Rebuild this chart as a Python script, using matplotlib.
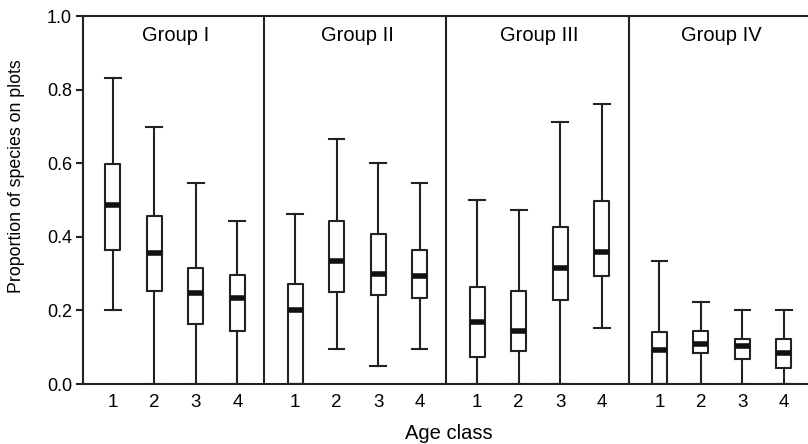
import matplotlib
matplotlib.use("Agg")
import matplotlib.pyplot as plt

plt.rcParams['font.family'] = ['Liberation Sans', 'DejaVu Sans']

groups = ["Group I", "Group II", "Group III", "Group IV"]
age_labels = ["1", "2", "3", "4"]

# per group, per age class: whisker low, q1, median, q3, whisker high
whislo = [[0.200, 0.000, 0.000, 0.000],
          [0.000, 0.096, 0.049, 0.096],
          [0.000, 0.000, 0.000, 0.153],
          [0.000, 0.000, 0.000, 0.000]]
q1 = [[0.363, 0.253, 0.162, 0.144],
      [0.000, 0.250, 0.241, 0.235],
      [0.074, 0.091, 0.228, 0.293],
      [0.000, 0.085, 0.067, 0.044]]
med = [[0.486, 0.356, 0.248, 0.235],
       [0.202, 0.333, 0.298, 0.293],
       [0.168, 0.143, 0.315, 0.358],
       [0.093, 0.109, 0.103, 0.084]]
q3 = [[0.598, 0.457, 0.316, 0.297],
      [0.271, 0.443, 0.408, 0.365],
      [0.264, 0.253, 0.426, 0.497],
      [0.141, 0.145, 0.121, 0.121]]
whishi = [[0.832, 0.699, 0.545, 0.444],
          [0.462, 0.666, 0.601, 0.545],
          [0.500, 0.473, 0.712, 0.761],
          [0.333, 0.222, 0.201, 0.201]]

stride = 4.39
fig = plt.figure(figsize=(8.08, 4.44), dpi=100)
ax = fig.add_axes([83/808, 1-384/444, 1-83/808, (384-16)/444])

col = '#222222'
stats, pos, labels = [], [], []
for g in range(4):
    for a in range(4):
        stats.append(dict(whislo=whislo[g][a], q1=q1[g][a], med=med[g][a],
                          q3=q3[g][a], whishi=whishi[g][a], fliers=[]))
        pos.append(g*stride + a)
        labels.append(age_labels[a])

ax.bxp(stats, positions=pos, widths=0.36, showfliers=False, patch_artist=False,
       boxprops=dict(color=col, linewidth=1.5),
       whiskerprops=dict(color=col, linewidth=1.5),
       capprops=dict(color=col, linewidth=1.5),
       medianprops=dict(color='#111111', linewidth=4.0, solid_capstyle='butt'),
       capwidths=0.38)

for g in range(1, 4):
    ax.axvline(g*stride - (stride-3)/2 - 0.05, color=col, linewidth=1.5)
for g in range(4):
    ax.text(g*stride + 1.5, 0.946, groups[g], ha='center', va='center', fontsize=14.5)

ax.set_xlim(-0.72, 16.75)
ax.set_ylim(0, 1.0)
ax.set_xticks(pos)
ax.set_xticklabels(labels, fontsize=13.5)
ax.tick_params(axis='x', length=0, pad=7)
ax.set_yticks([0, 0.2, 0.4, 0.6, 0.8, 1.0])
ax.set_yticklabels(["0.0", "0.2", "0.4", "0.6", "0.8", "1.0"], fontsize=13)
ax.tick_params(axis='y', length=5, width=1.5, color=col, direction='out', pad=3)
for s in ['left', 'bottom', 'top']:
    ax.spines[s].set_color(col)
    ax.spines[s].set_linewidth(1.5)
ax.spines['right'].set_visible(False)

fig.text(449/808, 1-433/444, "Age class", ha='center', va='center', fontsize=14.5)
fig.text(17/808, 1-176/444, "Proportion of species on plots", ha='center', va='center',
         rotation=90, fontsize=12.8)

fig.savefig("out.png", dpi=100)
